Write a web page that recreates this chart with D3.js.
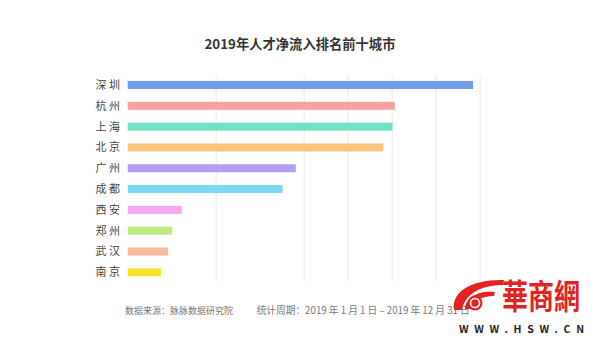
<!DOCTYPE html>
<html>
<head>
<meta charset="utf-8">
<script src="https://cdn.jsdelivr.net/npm/d3@7/dist/d3.min.js"></script>
<style>
  html, body { margin: 0; padding: 0; background: #fff; }
  svg { display: block; }
  text { font-family: "Noto Sans CJK SC", "Noto Sans", sans-serif; }
</style>
</head>
<body>
<svg id="chart" width="600" height="348"></svg>
<script>
// 2019 net talent inflow, top ten cities
const cities = ["深圳", "杭州", "上海", "北京", "广州", "成都", "西安", "郑州", "武汉", "南京"];
const values = [7.85, 6.07, 6.02, 5.81, 3.82, 3.52, 1.23, 1.01, 0.92, 0.76];
const barColors = ["#6f9bea", "#f5a29c", "#72e2c4", "#f8c57e", "#b49cf2",
                   "#7ad9f0", "#f2a9f2", "#bdeb7e", "#f6bb9f", "#f8e22c"];
const gridTicks = [2, 4, 5, 6, 7, 8];
const titleText = "2019年人才净流入排名前十城市";
const sourceText = "数据来源：脉脉数据研究院";
const periodText = "统计周期：2019 年 1 月 1 日 – 2019 年 12 月 31 日";

const svg = d3.select("#chart");

const x = d3.scaleLinear().domain([0, 8]).range([127.7, 479.7]);
const y = d3.scalePoint().domain(cities).range([85, 272.3]);
const barH = 8;

// title
svg.append("text")
  .attr("x", 300).attr("y", 49)
  .attr("text-anchor", "middle")
  .attr("font-size", 13.3).attr("font-weight", 700)
  .attr("fill", "#333")
  .text(titleText);

// vertical grid lines
svg.append("g")
  .attr("transform", "translate(0,281)")
  .call(d3.axisBottom(x).tickValues(gridTicks).tickSize(-206).tickFormat(""))
  .call(g => g.select(".domain").remove())
  .call(g => g.selectAll(".tick line").attr("stroke", "#e9e9e9"));

// bars
svg.append("g").selectAll("rect")
  .data(cities)
  .join("rect")
  .attr("x", x(0))
  .attr("y", d => y(d) - barH / 2)
  .attr("width", (d, i) => x(values[i]) - x(0))
  .attr("height", barH)
  .attr("fill", (d, i) => barColors[i]);

// city labels
svg.append("g").selectAll("text")
  .data(cities)
  .join("text")
  .attr("x", 120)
  .attr("y", d => y(d) + 4)
  .attr("text-anchor", "end")
  .attr("font-size", 11)
  .attr("fill", "#444")
  .text(d => d.split("").join(" "));

// footer
svg.append("text")
  .attr("x", 125).attr("y", 313.5)
  .attr("font-size", 9).attr("fill", "#777")
  .text(sourceText);
svg.append("text")
  .attr("x", 256.7).attr("y", 313.5)
  .attr("font-size", 9.7).attr("fill", "#777")
  .text(periodText);

// site logo
const logo = svg.append("g");
logo.append("path")
  .attr("d", "M454,310 C451,291 473,279 504,280 L503,285 C481,285 465,294 462,310 Z")
  .attr("fill", "#e3231f");
logo.append("path")
  .attr("d", "M465,309 C465,298 478,290 495,292 L494,296 C482,296 472,301 471,309 Z")
  .attr("fill", "#e3231f");
logo.append("circle").attr("cx", 475).attr("cy", 303).attr("r", 7.5).attr("fill", "#e3231f");
logo.append("circle").attr("cx", 475).attr("cy", 303).attr("r", 4.5).attr("fill", "none")
  .attr("stroke", "#fff").attr("stroke-width", 1.6);
logo.append("text")
  .attr("transform", "translate(502,309) scale(1,1.3)")
  .attr("font-family", "'Noto Sans CJK TC', sans-serif")
  .attr("font-size", 26).attr("font-weight", 700)
  .attr("fill", "#e3231f")
  .text("華商網");
logo.append("text")
  .attr("x", 459).attr("y", 333)
  .attr("font-family", "'Liberation Sans', Arial, sans-serif")
  .attr("font-size", 10.5).attr("font-weight", 700)
  .attr("fill", "#222")
  .attr("textLength", 125).attr("lengthAdjust", "spacing")
  .text("WWW.HSW.CN");
</script>
</body>
</html>
